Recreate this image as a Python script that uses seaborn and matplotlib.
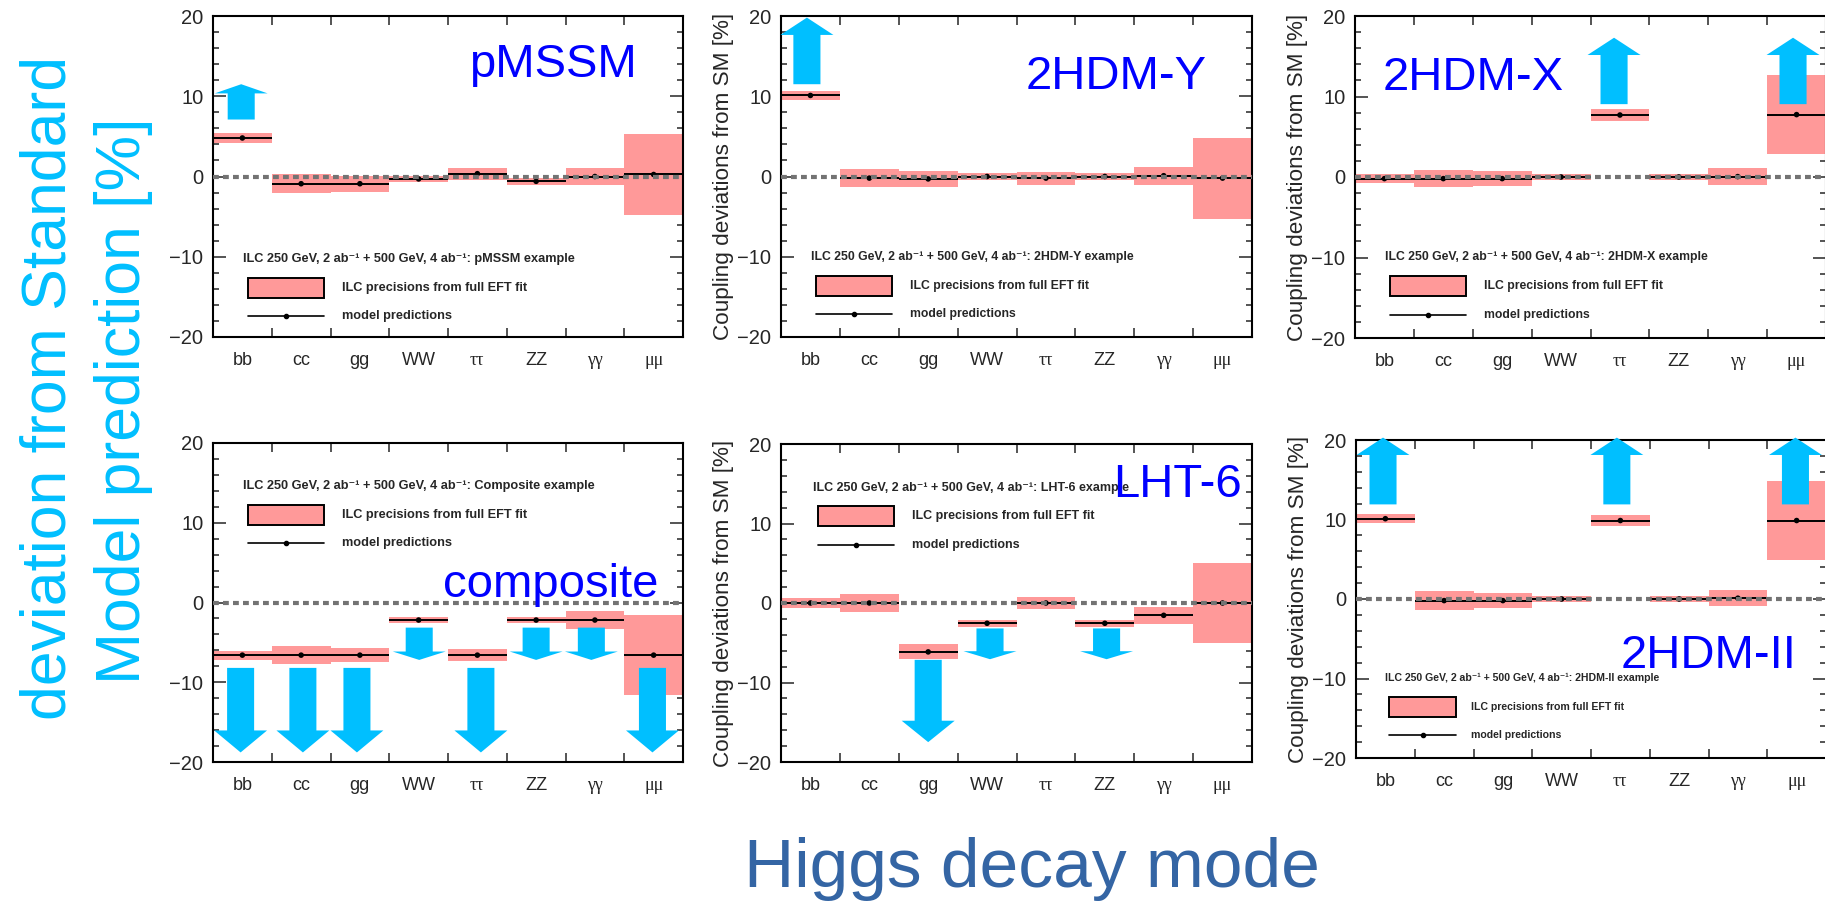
"""
Higgs coupling deviations from the SM for six BSM benchmark models,
compared with the ILC precision from the full EFT fit.
"""

import matplotlib

matplotlib.use("Agg")
import matplotlib.pyplot as plt
import pandas as pd
import seaborn as sns
from matplotlib.patches import Rectangle
from matplotlib.ticker import FixedLocator, MultipleLocator, NullFormatter

CATEGORIES = ["bb", "cc", "gg", "WW", "ττ", "ZZ", "γγ", "μμ"]
GREEK = {"ττ", "γγ", "μμ"}

# model predictions [%] and ILC precision (half-width of band) [%]
PMSSM_PRED = [4.8, -0.9, -0.9, -0.3, 0.35, -0.6, 0.0, 0.25]
PMSSM_ERR = [0.68, 1.15, 1.0, 0.35, 0.73, 0.45, 1.05, 5.05]
HDMY_PRED = [10.1, -0.2, -0.3, 0.0, -0.2, 0.0, 0.1, -0.2]
HDMY_ERR = [0.6, 1.1, 0.95, 0.4, 0.8, 0.4, 1.1, 5.05]
HDMX_PRED = [-0.2, -0.2, -0.2, 0.0, 7.7, 0.0, 0.05, 7.75]
HDMX_ERR = [0.6, 1.1, 0.93, 0.4, 0.72, 0.43, 1.03, 4.9]
COMP_PRED = [-6.6, -6.6, -6.6, -2.2, -6.6, -2.2, -2.2, -6.6]
COMP_ERR = [0.57, 1.15, 0.9, 0.38, 0.75, 0.4, 1.1, 5.05]
LHT_PRED = [0.0, 0.0, -6.15, -2.55, 0.0, -2.55, -1.55, 0.0]
LHT_ERR = [0.58, 1.15, 0.95, 0.42, 0.8, 0.42, 1.1, 5.05]
HDMII_PRED = [10.1, -0.2, -0.2, 0.0, 9.87, 0.0, 0.1, 9.87]
HDMII_ERR = [0.6, 1.15, 0.95, 0.4, 0.75, 0.42, 1.03, 5.0]

# highlight arrows: x position (category units), start and tip [%]
PMSSM_ARROW_X = [0.48]
PMSSM_ARROW_FROM = [7.1]
PMSSM_ARROW_TO = [11.5]
HDMY_ARROW_X = [0.44]
HDMY_ARROW_FROM = [11.5]
HDMY_ARROW_TO = [19.8]
HDMX_ARROW_X = [4.4, 7.44]
HDMX_ARROW_FROM = [9.05, 9.05]
HDMX_ARROW_TO = [17.3, 17.3]
COMP_ARROW_X = [0.47, 1.53, 2.45, 3.51, 4.56, 5.5, 6.44, 7.48]
COMP_ARROW_FROM = [-8.2, -8.2, -8.2, -3.15, -8.2, -3.15, -3.15, -8.2]
COMP_ARROW_TO = [-18.8, -18.8, -18.8, -7.2, -18.8, -7.2, -7.2, -18.8]
LHT_ARROW_X = [2.5, 3.55, 5.53]
LHT_ARROW_FROM = [-7.15, -3.2, -3.2]
LHT_ARROW_TO = [-17.5, -7.07, -7.07]
HDMII_ARROW_X = [0.46, 4.44, 7.48]
HDMII_ARROW_FROM = [11.9, 11.9, 11.9]
HDMII_ARROW_TO = [20.3, 20.3, 20.3]

PINK = "#ff9999"
SKY = "#00bfff"
NAME_BLUE = "#0000ff"
TITLE_BLUE = "#3465a4"
W, H = 1825, 901
FONTS = ["Liberation Sans", "DejaVu Sans"]

PANELS = [
    dict(name="pMSSM", tag="pMSSM", pred=PMSSM_PRED, err=PMSSM_ERR,
         arrows=(PMSSM_ARROW_X, PMSSM_ARROW_FROM, PMSSM_ARROW_TO),
         rect=(213, 16, 683, 337), ylabel=False, name_xy=(5.79, 12.4),
         legend=(0.51, -10.25, 9.2, 1.0)),
    dict(name="2HDM-Y", tag="2HDM-Y", pred=HDMY_PRED, err=HDMY_ERR,
         arrows=(HDMY_ARROW_X, HDMY_ARROW_FROM, HDMY_ARROW_TO),
         rect=(781, 16, 1252, 337), ylabel=True, name_xy=(5.69, 10.9),
         legend=(0.51, -10.0, 8.8, 1.0)),
    dict(name="2HDM-X", tag="2HDM-X", pred=HDMX_PRED, err=HDMX_ERR,
         arrows=(HDMX_ARROW_X, HDMX_ARROW_FROM, HDMX_ARROW_TO),
         rect=(1355, 16, 1826, 338), ylabel=True, name_xy=(2.01, 10.8),
         legend=(0.51, -9.96, 8.8, 1.0)),
    dict(name="composite", tag="Composite", pred=COMP_PRED, err=COMP_ERR,
         arrows=(COMP_ARROW_X, COMP_ARROW_FROM, COMP_ARROW_TO),
         rect=(213, 443, 683, 762), ylabel=False, name_xy=(5.75, 0.7),
         legend=(0.51, 14.56, 9.2, 1.0)),
    dict(name="LHT-6", tag="LHT-6", pred=LHT_PRED, err=LHT_ERR,
         arrows=(LHT_ARROW_X, LHT_ARROW_FROM, LHT_ARROW_TO),
         rect=(781, 444, 1252, 762), ylabel=True, name_xy=(6.74, 13.3),
         legend=(0.54, 14.5, 9.0, 1.0)),
    dict(name="2HDM-II", tag="2HDM-II", pred=HDMII_PRED, err=HDMII_ERR,
         arrows=(HDMII_ARROW_X, HDMII_ARROW_FROM, HDMII_ARROW_TO),
         rect=(1356, 440, 1826, 758), ylabel=True, name_xy=(6.0, -8.7),
         legend=(0.5, -9.96, 7.6, 0.87)),
]


def axes_rect(left, top, right, bottom):
    return [left / W, 1 - bottom / H, (right - left) / W, (bottom - top) / H]


def draw_legend(ax, tag, lx, ly, fs, k):
    ax.text(lx, ly, f"ILC 250 GeV, 2 ab⁻¹ + 500 GeV, 4 ab⁻¹: {tag} example",
            fontsize=fs, fontweight="bold", ha="left", va="center")
    bx0, bx1 = lx + 0.08 * k, lx + 1.38 * k
    ax.add_patch(Rectangle((bx0, ly - 4.85), bx1 - bx0, 2.5, facecolor=PINK,
                           edgecolor="black", lw=1.4, zorder=6))
    ax.text(lx + 1.68 * k, ly - 3.6, "ILC precisions from full EFT fit",
            fontsize=fs, fontweight="bold", ha="left", va="center")
    ax.plot([bx0, bx1], [ly - 7.15] * 2, color="black", lw=1.2)
    ax.plot([(bx0 + bx1) / 2], [ly - 7.15], "o", ms=3, color="black")
    ax.text(lx + 1.68 * k, ly - 7.15, "model predictions",
            fontsize=fs, fontweight="bold", ha="left", va="center")


def draw_panel(fig, p):
    ax = fig.add_axes(axes_rect(*p["rect"]))
    n = len(CATEGORIES)
    df = pd.DataFrame({"pos": [i + 0.5 for i in range(n)],
                       "pred": p["pred"], "err": p["err"]})

    ax.bar(df["pos"], 2 * df["err"], bottom=df["pred"] - df["err"], width=1.0,
           color=PINK, linewidth=0, zorder=1)
    ax.hlines(df["pred"], df["pos"] - 0.5, df["pos"] + 0.5, color="black",
              lw=1.4, zorder=2)
    sns.scatterplot(data=df, x="pos", y="pred", color="black", s=16,
                    edgecolor="none", zorder=3, ax=ax)
    ax.axhline(0, color="#737373", lw=3.0, dashes=(1.4, 1.0), zorder=4)

    for x, y0, y1 in zip(*p["arrows"]):
        dy = y1 - y0
        ax.arrow(x, y0, 0, dy, width=0.46, head_width=0.9,
                 head_length=0.26 * abs(dy), length_includes_head=True,
                 color=SKY, lw=0, zorder=5, clip_on=False)

    ax.set_xlim(0, n)
    ax.set_ylim(-20, 20)
    ax.xaxis.set_major_locator(FixedLocator(range(1, n)))
    ax.xaxis.set_major_formatter(NullFormatter())
    ax.set_xticks([i + 0.5 for i in range(n)], minor=True)
    ax.set_xticklabels(CATEGORIES, minor=True)
    for lab in ax.get_xticklabels(minor=True):
        if lab.get_text() in GREEK:
            lab.set_family(["Liberation Serif", "DejaVu Serif"])
    ax.tick_params(axis="x", which="major", direction="in", length=6.5,
                   width=1.1, top=True, bottom=True)
    ax.tick_params(axis="x", which="minor", length=0, pad=11, labelsize=13)
    ax.yaxis.set_major_locator(MultipleLocator(10))
    ax.yaxis.set_minor_locator(MultipleLocator(2))
    ax.tick_params(axis="y", which="both", direction="in", left=True,
                   right=True, width=1.1, labelsize=14.5, pad=7)
    ax.tick_params(axis="y", which="major", length=9.5)
    ax.tick_params(axis="y", which="minor", length=4.5)
    for spine in ax.spines.values():
        spine.set_linewidth(1.5)
        spine.set_color("black")

    ax.set_xlabel("")
    if p["ylabel"]:
        ax.set_ylabel("Coupling deviations from SM [%]", fontsize=16.2)
        ax.yaxis.set_label_coords(-0.1, 0.5)
    else:
        ax.set_ylabel("")

    nx, ny = p["name_xy"]
    ax.text(nx, ny, p["name"], color=NAME_BLUE, fontsize=34, ha="center",
            va="baseline", zorder=7)
    draw_legend(ax, p["tag"], *p["legend"])


def main():
    sns.set_style("ticks")
    plt.rcParams["font.family"] = FONTS
    plt.rcParams["axes.unicode_minus"] = True

    fig = plt.figure(figsize=(W / 100, H / 100), dpi=100)
    for p in PANELS:
        draw_panel(fig, p)

    fig.text(49 / W, 1 - 388 / H, "deviation from Standard", rotation=90,
             ha="center", va="center", fontsize=45, color=SKY)
    fig.text(124 / W, 1 - 401 / H, "Model prediction [%]", rotation=90,
             ha="center", va="center", fontsize=45, color=SKY)
    fig.text(1032 / W, 1 - 887 / H, "Higgs decay mode", ha="center",
             va="baseline", fontsize=50, color=TITLE_BLUE)

    fig.savefig("out.png", dpi=100)
    plt.close(fig)


if __name__ == "__main__":
    main()
